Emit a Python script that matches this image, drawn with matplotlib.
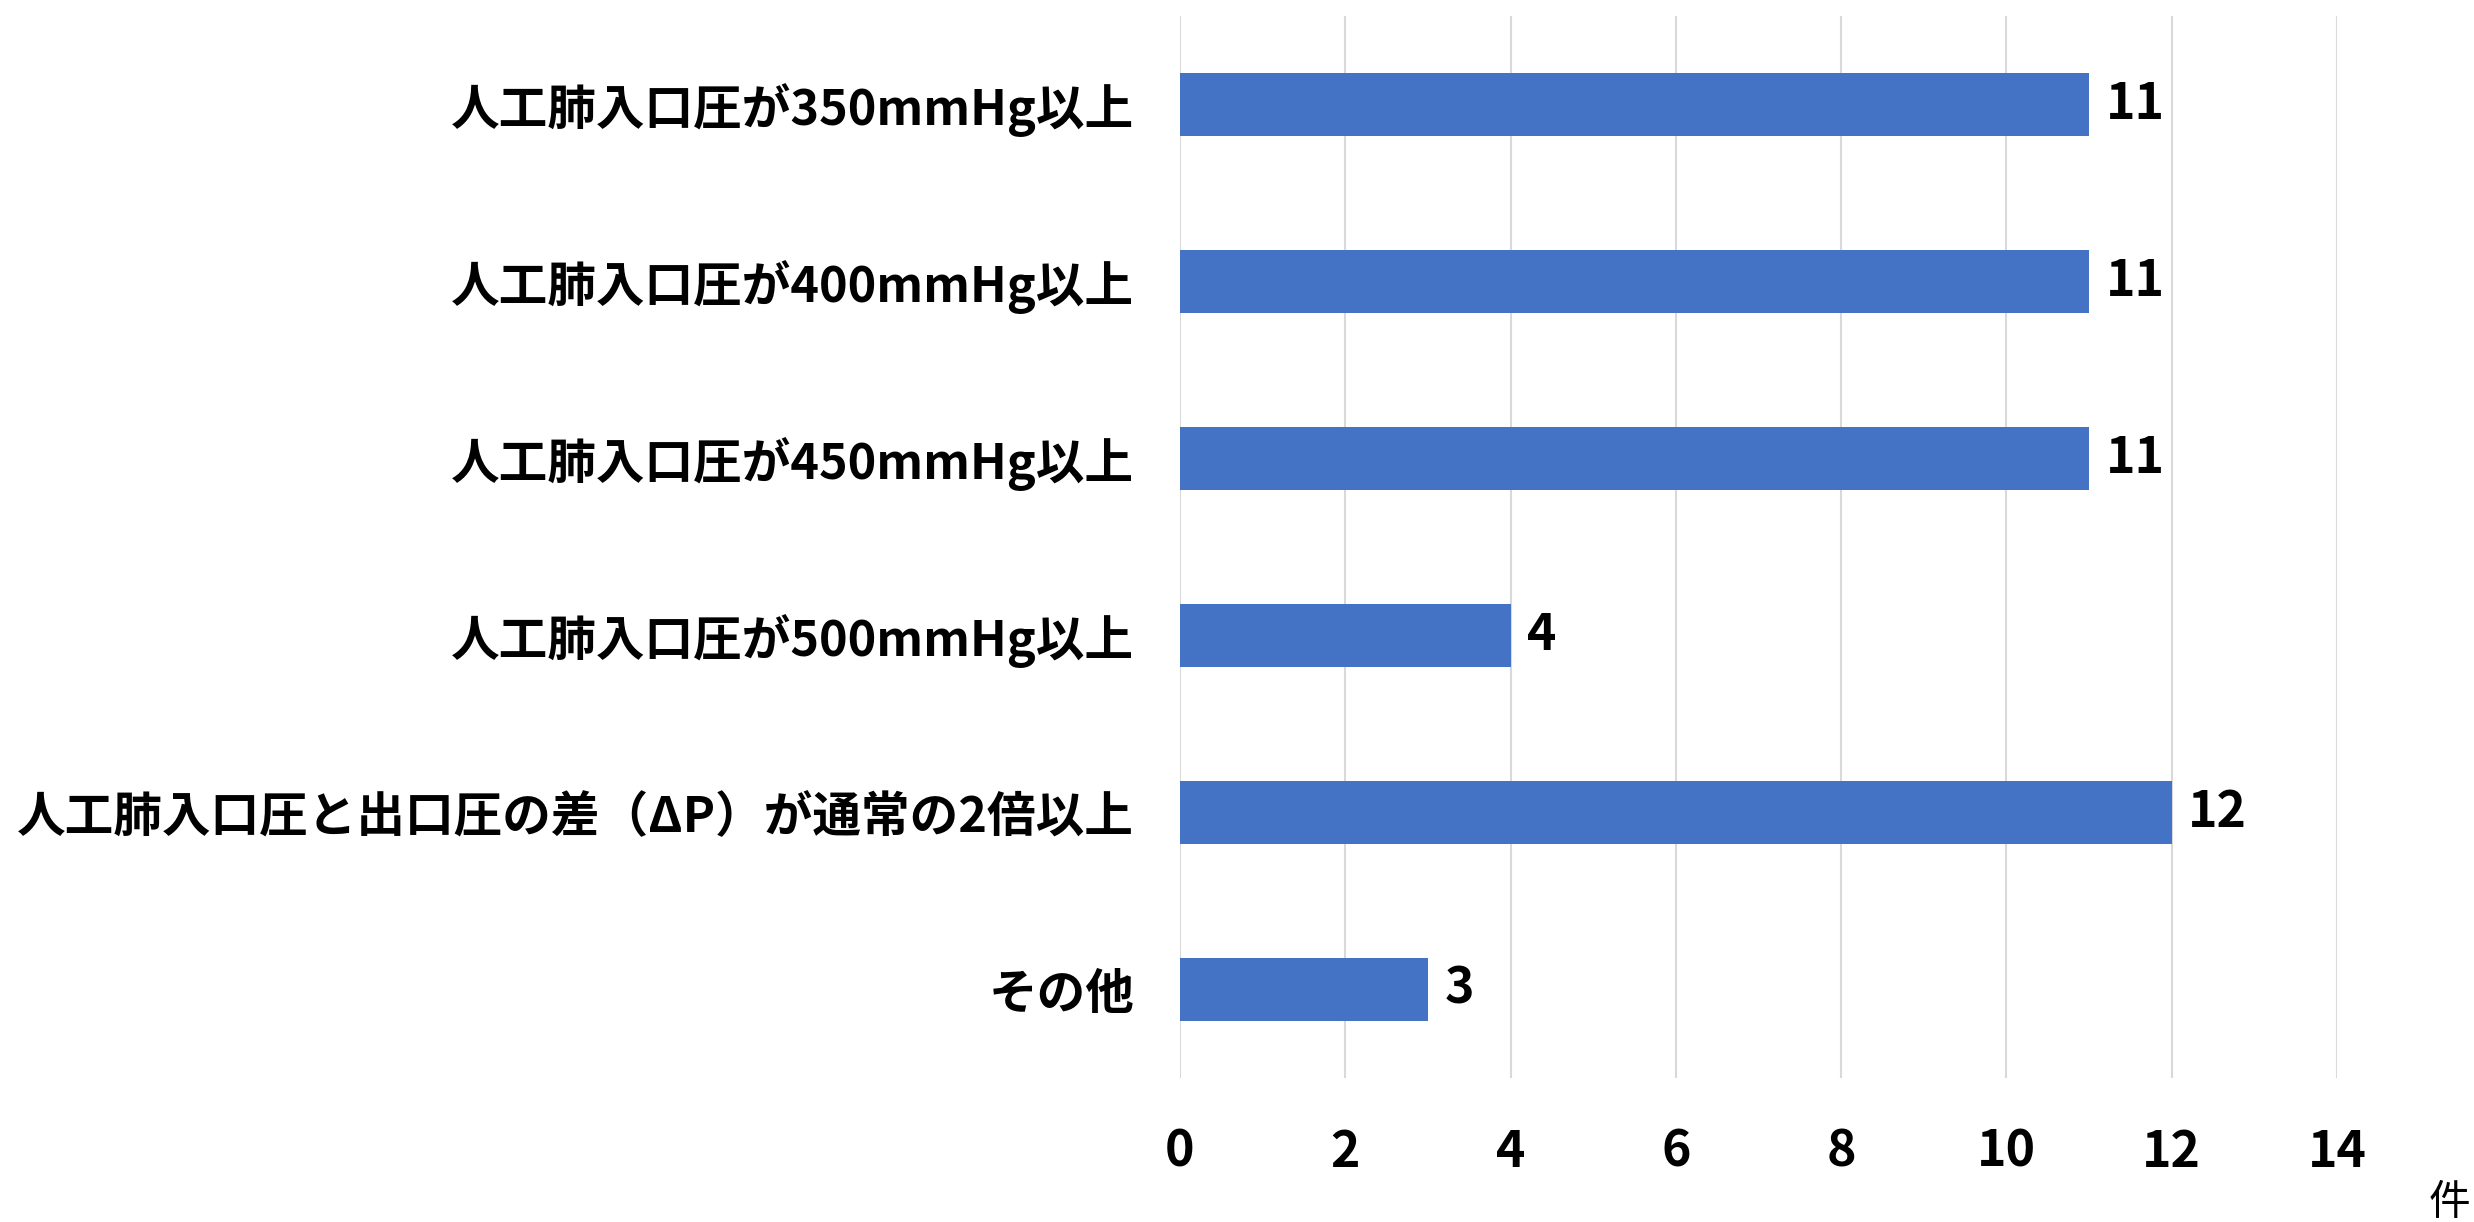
import matplotlib
matplotlib.use("Agg")
import matplotlib.pyplot as plt

plt.rcParams['font.family'] = ['Noto Sans CJK JP', 'DejaVu Sans']

categories = [
    "人工肺入口圧が350mmHg以上",
    "人工肺入口圧が400mmHg以上",
    "人工肺入口圧が450mmHg以上",
    "人工肺入口圧が500mmHg以上",
    "人工肺入口圧と出口圧の差（ΔP）が通常の2倍以上",
    "その他",
]
values = [11, 11, 11, 4, 12, 3]
xticks = [0, 2, 4, 6, 8, 10, 12, 14]
unit_label = "件"

fig = plt.figure(figsize=(24.74, 12.22), dpi=100)
ax = fig.add_axes([1180/2474, 1 - 1078/1222, (2337-1180)/2474, (1078-16)/1222])

y = list(range(len(categories)))
ax.barh(y, values, height=0.36, color="#4472C4", zorder=3)
ax.set_ylim(len(categories) - 0.5, -0.5)
ax.set_xlim(0, 14)
ax.set_xticks(xticks)
ax.set_xticklabels([str(t) for t in xticks], fontsize=36, fontweight='bold')
ax.set_yticks(y)
ax.set_yticklabels(categories, fontsize=35, fontweight='bold')
ax.tick_params(axis='both', length=0)
ax.tick_params(axis='x', pad=35)
ax.tick_params(axis='y', pad=33)
ax.grid(axis='x', color="#d9d9d9", linewidth=1.5, zorder=0)
for s in ax.spines.values():
    s.set_visible(False)

for yi, v in zip(y, values):
    ax.text(v + 0.2, yi, str(v), va='center', ha='left', fontsize=36, fontweight='bold')

fig.text(2449/2474, 1 - 1203/1222, unit_label, ha='center', va='center', fontsize=30)

fig.savefig("out.png", dpi=100)
